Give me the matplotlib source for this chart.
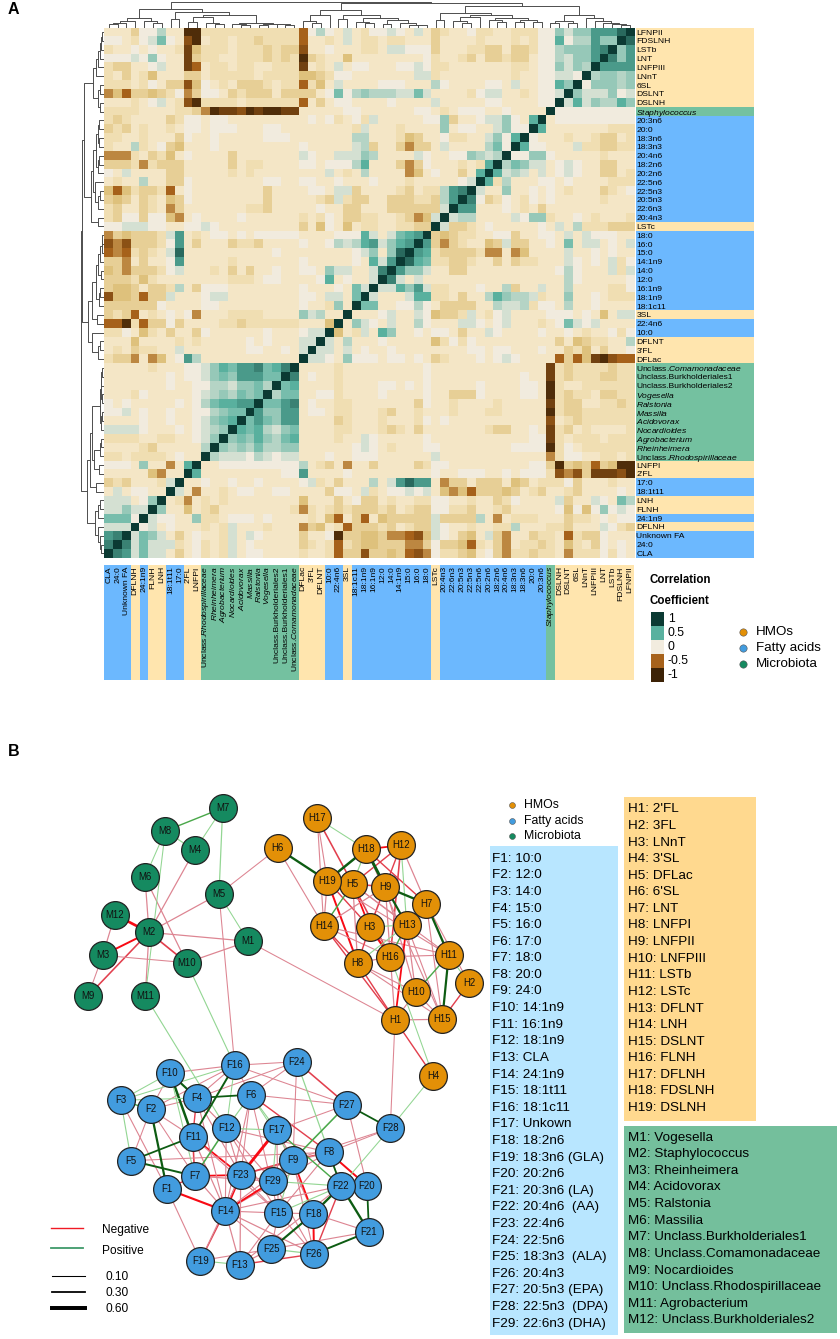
import matplotlib
matplotlib.use('Agg')
import matplotlib.pyplot as plt
import numpy as np
from matplotlib.colors import LinearSegmentedColormap
from matplotlib.patches import Rectangle

plt.rcParams['font.family'] = ['Liberation Sans', 'DejaVu Sans']
plt.rcParams['mathtext.fontset'] = 'custom'
plt.rcParams['mathtext.rm'] = 'Liberation Sans'
plt.rcParams['mathtext.it'] = 'Liberation Sans:italic'

##### heatmap labels, top to bottom
row_labels = ['LFNPII', 'FDSLNH', 'LSTb', 'LNT', 'LNFPIII', 'LNnT', '6SL', 'DSLNT', 'DSLNH',
              r'$\mathit{Staphylococcus}$',
              '20:3n6', '20:0', '18:3n6', '18:3n3', '20:4n6', '18:2n6', '20:2n6', '22:5n6',
              '22:5n3', '20:5n3', '22:6n3', '20:4n3', 'LSTc',
              '18:0', '16:0', '15:0', '14:1n9', '14:0', '12:0', '16:1n9', '18:1n9', '18:1c11',
              '3SL', '22:4n6', '10:0', 'DFLNT', "3'FL", 'DFLac',
              r'Unclass.$\mathit{Comamonadaceae}$', 'Unclass.Burkholderiales1',
              'Unclass.Burkholderiales2', r'$\mathit{Vogesella}$', r'$\mathit{Ralstonia}$',
              r'$\mathit{Massilia}$', r'$\mathit{Acidovorax}$', r'$\mathit{Nocardioides}$',
              r'$\mathit{Agrobacterium}$', r'$\mathit{Rheinheimera}$',
              r'Unclass.$\mathit{Rhodospirillaceae}$',
              'LNFPI', "2'FL", '17:0', '18:1t11', 'LNH', 'FLNH', '24:1n9', 'DFLNH',
              'Unknown FA', '24:0', 'CLA']
# H hmo, F fatty acid, M microbiota
row_groups = 'HHHHHHHHH' + 'M' + 'FFFFFFFFFFFF' + 'H' + 'FFFFFFFFF' + 'H' + 'FF' + 'HHH' \
             + 'MMMMMMMMMMM' + 'HH' + 'FF' + 'HH' + 'F' + 'H' + 'FFF'

##### correlation values, coded per cell. Only the part above the diagonal is typed, matrix is symmetric
levels = {'a': -0.09, 'b': -0.15, 'c': -0.23, 'd': -0.3, 'e': -0.42, 'f': -0.5, 'g': -0.62,
          'h': -0.75, 'i': -0.9, '0': 0.0, '1': 0.1, '2': 0.2, '3': 0.3, '4': 0.4, '5': 0.5,
          '6': 0.6, '7': 0.7, '8': 0.8, '9': 0.9}
corr_rows = [
    'aaac002aai ibbbbbbbbb bbf020a1ab 0010a1acba a0bbaabbb0 031336668',
    '00ab0140ag iabbabbcbb bbfaaba1ab babbaaacaa aabaaabab0 05022633',
    'baa0a0aabh dbbbabbbcb ccgaa0aaab ba11000caa abbccaccb0 0233367',
    '0001030aah cbbaabbbcb cbicbaadaa aaaaaa0baa bcaccbcca0 021336',
    'bccaa01aah fabbabbaab bbhaba1a00 aaa0010bba aaaaaabba0 03132',
    'bacabdaaac cabbbbbabb bbddcb00aa aaaaa11baa aaaaaabaa0 0110',
    'bbbab0accg d0abacccba bbfbda1aaa a000aaa20a aaa00a1aa0 053',
    'edfccdcb0e c00acbccca cccca04023 2221141aaa ab011aaba0 01',
    'aaaba01abg ibbbbabbbb bbfaca00aa aa0aaaa1aa aaa00aaaa0 0',
    'bbbbaaaabb ceihhgihii hhaaaaa00a aaaaa00aba 000aa0aaaa',
    'bcbaaaacb0 0a00aaaaaa aaa0a0ba0b 1aaaaa003c aa01130a5',
    'cbcabaaba0 0a000aaa00 aaaaaaaab1 aaabaaaa3a 00aa1300',
    'bbaabaaac0 aa0aaaaa00 0aaaaaaa22 aaabdcaa0b baa1305',
    'baa2ba0cda aa0aaaaaaa aa0aaaaa12 caacecca1a aaa240',
    'eeebacbda0 aaaacaaaaa aa10aa1113 2aaaa10aa0 03212',
    'cccbebccca aaaacabbaa aa00a00025 aaacec0aaa bab5',
    '0a1aaaacca aaaababaaa aaaaa1aba2 aaaaeda0aa ca5',
    'abaa2aacc0 aaaaaaaa00 aa00aa0aaa 0aaabaaaaa 01',
    'dfdbccbfa0 aaaaaaaaca aaa00a11ca aaabcabb26 7',
    'cdcacbadc0 aaaaaaaaca aaaabc1bcc aacccbbc26',
    'bcaacbaeca aaaaaabbca aaaa0aacca aacccccc1',
    'bc00c00dea 0aaaa0aaaa aabab0accb baabced1',
    '0011100aa0 010aaaaaaa aacad0adab baabbcc',
    'ecdcccb16a ba00a0a000 00aaaa0005 1a1456',
    'gegcccb06a caaacbbcaa aa0aa02125 61356',
    'fefbcba18a aaaaaaaaa0 aaaaaaaa01 3a38',
    'cceacaa06a aaaabaaaaa aa0aaaaa0a 516',
    'dcecccb01a aabacacaa0 aa00a311aa 17',
    'cccbdbaaaa aaaabbba00 aaaa05a0aa 1',
    'cddcaccb2a c000aaaaaa aa0aaa0a41',
    'gddcfcc1aa a011aaaaaa aa00a11a4',
    'cccccc0aaa a00aaaaaaa aa0aab3a',
    'cbcfaba0a0 eaaabbbbaa aa312aa',
    'ffibfcc0ca aaabbcbbbb bbaaad',
    'bb0adbacaa c0aaaaaa0a aa011',
    'aaadaaaaba baaaaa0a0a aa11',
    'abacbbaa1a aaaaaa00aa 0a1',
    'bcceaeda06 2aaaaaaaaa aa',
    'aaaaabaaa0 0135466745 7',
    'aaaaaaa0a0 0134366644',
    'aaaaaaa0aa 002213342',
    'aaab0aaaaa 01232434',
    '0a0aaaaa0a 0245566',
    '001a0aa0aa 002344',
    'aaaa0aa0aa 01345',
    '11110aaa0a 0123',
    'bbbbaabbaa 013',
    'aaaabcaaaa a2',
    'bbabbbba0a a',
    '000a3aaea5',
    'aaaaadeaa',
    'cbcaaab1',
    'a1a00aa',
    '111a03',
    '11311',
    '4440',
    '111',
    '67',
    '7',
    '',
]

##### dendrogram, (height, left, right) on columns, leaf = column number
c0_6 = (9.5, (6.5, (4.5, (3, 0, 1), 2), 3), (6, 4, (4, 5, 6)))
c9_13 = (10.4, (5, 9, 10), (4.5, 11, (3.5, 12, 13)))
c14_21 = (4.5, (3, 14, (2, 15, 16)), (3.5, (2.5, 17, 18), (3, 19, (2.2, 20, 21))))
c7_21 = (15.7, (8.3, 7, 8), (12.7, c9_13, c14_21))
c22_25 = (12.7, (6, 22, (4.5, 23, 24)), 25)
c28_36 = (9, (5, 28, (4, 29, 30)), (7, (3, 31, 32), (4, 33, (2.5, 34, (1.8, 35, 36)))))
c22_36 = (17.5, c22_25, (12.7, (8, 26, 27), c28_36))
c39_49 = (12.5, (10, (6, 39, (4.5, 40, 41)), 42), (9, (7, 43, (5, 44, 45)), (7, (5, 46, 47), (5, 48, 49))))
c37_49 = (14, (7, 37, 38), c39_49)
c50_59 = (12, (6, (4, 50, 51), (4.5, 52, 53)), (9, 54, (6, 55, (4, 56, (3, 57, (2, 58, 59))))))
dendro_tree = (25, (18.3, c0_6, c7_21), (24, c22_36, (21.7, c37_49, c50_59)))

##### network
hmo_names = ["2'FL", '3FL', 'LNnT', "3'SL", 'DFLac', "6'SL", 'LNT', 'LNFPI', 'LNFPII', 'LNFPIII',
             'LSTb', 'LSTc', 'DFLNT', 'LNH', 'DSLNT', 'FLNH', 'DFLNH', 'FDSLNH', 'DSLNH']
fatty_names = ['10:0', '12:0', '14:0', '15:0', '16:0', '17:0', '18:0', '20:0', '24:0', '14:1n9',
               '16:1n9', '18:1n9', 'CLA', '24:1n9', '18:1t11', '18:1c11', 'Unkown', '18:2n6',
               '18:3n6 (GLA)', '20:2n6', '20:3n6 (LA)', '20:4n6  (AA)', '22:4n6', '22:5n6',
               '18:3n3  (ALA)', '20:4n3', '20:5n3 (EPA)', '22:5n3  (DPA)', '22:6n3 (DHA)']
micro_names = ['Vogesella', 'Staphylococcus', 'Rheinheimera', 'Acidovorax', 'Ralstonia', 'Massilia',
               'Unclass.Burkholderiales1', 'Unclass.Comamonadaceae', 'Nocardioides',
               'Unclass.Rhodospirillaceae', 'Agrobacterium', 'Unclass.Burkholderiales2']

node_xy = {
    'M1': (248.3, 941.3), 'M2': (149, 932.3), 'M3': (102.7, 955.3), 'M4': (194.7, 850.3),
    'M5': (219, 894), 'M6': (145, 877.3), 'M7': (222.7, 808), 'M8': (165.3, 831),
    'M9': (88, 996), 'M10': (186.7, 962.7), 'M11': (145.3, 996), 'M12': (115, 914.7),
    'H1': (395, 1020), 'H2': (469, 983.3), 'H3': (369.7, 927.3), 'H4': (433, 1075.7),
    'H5': (352.7, 884), 'H6': (277.7, 848.3), 'H7': (426.3, 903.7), 'H8': (357.7, 963),
    'H9': (385.3, 886.7), 'H10': (415.7, 992.3), 'H11': (448.7, 955), 'H12': (401, 845.3),
    'H13': (406.7, 924.7), 'H14': (323.7, 926), 'H15': (442.3, 1019.3), 'H16': (390.3, 956.7),
    'H17': (317.3, 818.3), 'H18': (366, 849.3), 'H19': (327.3, 880.7),
    'F1': (167, 1189), 'F2': (150.7, 1109.3), 'F3': (120.7, 1100.3), 'F4': (196.7, 1098),
    'F5': (131.3, 1160.7), 'F6': (250.7, 1094.7), 'F7': (194.7, 1176), 'F8': (328.7, 1152.3),
    'F9': (293, 1160), 'F10': (170, 1073), 'F11': (192.7, 1136.7), 'F12': (226.3, 1128.3),
    'F13': (240, 1264.7), 'F14': (225.3, 1211), 'F15': (278.3, 1213), 'F16': (234.7, 1065.3),
    'F17': (276.7, 1130), 'F18': (313.3, 1213.7), 'F19': (200.3, 1260.7), 'F20': (367, 1185.7),
    'F21': (369, 1231.7), 'F22': (341, 1186), 'F23': (240.7, 1175), 'F24': (296.7, 1061.7),
    'F25': (271.3, 1249), 'F26': (314, 1254), 'F27': (347, 1104.7), 'F28': (390.3, 1128.3),
    'F29': (272.7, 1181.3),
}

neg_edges = [
    ('M4', 'M2', .15), ('M6', 'M2', .15), ('M6', 'M10', .15), ('M5', 'M2', .15), ('M5', 'H6', .1),
    ('M5', 'F16', .1), ('M12', 'M2', .55), ('M12', 'M3', .15), ('M2', 'M3', .35), ('M2', 'M9', .25),
    ('M2', 'M10', .28), ('M2', 'M1', .15), ('M2', 'M11', .15), ('M3', 'M10', .1), ('M3', 'M9', .1),
    ('M10', 'M1', .15), ('M1', 'H1', .1),
    ('H6', 'H14', .12), ('H17', 'H14', .12), ('H17', 'H19', .12), ('H17', 'H5', .25), ('H18', 'H12', .3),
    ('H18', 'H7', .2), ('H12', 'H9', .2), ('H12', 'H5', .2), ('H12', 'H7', .15), ('H12', 'H16', .25),
    ('H19', 'H5', .2), ('H19', 'H8', .35), ('H19', 'H3', .2), ('H19', 'H14', .15), ('H5', 'H9', .25),
    ('H5', 'H3', .3), ('H5', 'H8', .15), ('H5', 'H16', .25), ('H5', 'H13', .12), ('H9', 'H3', .25),
    ('H9', 'H14', .15), ('H9', 'H16', .15), ('H9', 'H10', .15), ('H7', 'H2', .12), ('H7', 'H15', .12),
    ('H14', 'H8', .2), ('H14', 'H16', .12), ('H14', 'H11', .12), ('H14', 'H1', .2), ('H3', 'H16', .42),
    ('H3', 'H8', .2), ('H13', 'H1', .3), ('H13', 'H10', .15), ('H13', 'H15', .12), ('H16', 'H11', .12),
    ('H16', 'H8', .15), ('H16', 'H1', .15), ('H8', 'H10', .12), ('H8', 'H1', .2), ('H8', 'H15', .12),
    ('H2', 'H15', .2), ('H10', 'H1', .15), ('H10', 'H15', .12), ('H1', 'H15', .15), ('H1', 'H4', .2),
    ('H1', 'F28', .1), ('H19', 'H11', .12), ('H5', 'H11', .12), ('H18', 'H15', .12),
    ('F16', 'F24', .1), ('F16', 'F10', .12), ('F16', 'F4', .12), ('F16', 'F6', .1), ('F16', 'F2', .1),
    ('F16', 'F27', .1), ('F24', 'F4', .1), ('F24', 'F6', .1), ('F24', 'F27', .25), ('F24', 'F9', .1),
    ('F10', 'F2', .1), ('F3', 'F1', .12), ('F2', 'F4', .1), ('F2', 'F5', .1), ('F2', 'F11', .12),
    ('F2', 'F7', .1), ('F4', 'F11', .2), ('F4', 'F12', .15), ('F4', 'F23', .12), ('F6', 'F27', .1),
    ('F6', 'F8', .2), ('F6', 'F23', .1), ('F6', 'F15', .1), ('F27', 'F17', .1), ('F27', 'F20', .12),
    ('F28', 'F8', .1), ('F28', 'F9', .1), ('F12', 'F8', .12), ('F12', 'F23', .12), ('F12', 'F29', .12),
    ('F12', 'F15', .12), ('F11', 'F7', .25), ('F11', 'F23', .3), ('F11', 'F14', .15), ('F11', 'F15', .12),
    ('F5', 'F8', .1), ('F17', 'F23', .6), ('F17', 'F9', .12), ('F17', 'F18', .12), ('F8', 'F9', .2),
    ('F8', 'F20', .35), ('F8', 'F23', .12), ('F8', 'F14', .12), ('F9', 'F23', .25), ('F9', 'F18', .3),
    ('F9', 'F26', .12), ('F7', 'F23', .3), ('F7', 'F29', .15), ('F7', 'F1', .2), ('F7', 'F14', .15),
    ('F23', 'F14', .45), ('F23', 'F29', .12), ('F23', 'F15', .12), ('F29', 'F14', .35), ('F29', 'F26', .12),
    ('F1', 'F14', .4), ('F1', 'F19', .12), ('F22', 'F26', .2), ('F14', 'F15', .12), ('F14', 'F19', .2),
    ('F14', 'F13', .15), ('F14', 'F25', .12), ('F14', 'F26', .15), ('F15', 'F18', .12), ('F15', 'F25', .12),
    ('F15', 'F13', .12), ('F15', 'F26', .12), ('F18', 'F26', .35), ('F18', 'F21', .12), ('F25', 'F13', .15),
    ('F25', 'F19', .12), ('F26', 'F13', .2), ('F19', 'F23', .12), ('F13', 'F23', .15), ('F21', 'F25', .12),
    ('F9', 'F14', .12), ('F8', 'F15', .12), ('F12', 'F14', .12), ('F6', 'F14', .12), ('F4', 'F14', .12),
    ('F17', 'F15', .12), ('F22', 'F14', .12), ('F22', 'F13', .12),
]
pos_edges = [
    ('M7', 'M8', .2), ('M7', 'M4', .1), ('M7', 'M5', .15), ('M8', 'M4', .15), ('M8', 'M6', .1),
    ('M8', 'M11', .1), ('M5', 'M1', .1), ('M10', 'F16', .12), ('M11', 'F12', .12),
    ('H6', 'H19', .45), ('H17', 'H18', .1), ('H18', 'H19', .5), ('H18', 'H9', .62), ('H18', 'H5', .15),
    ('H12', 'H13', .12), ('H5', 'H14', .2), ('H9', 'H7', .45), ('H9', 'H13', .4), ('H7', 'H11', .45),
    ('H7', 'H13', .12), ('H3', 'H13', .12), ('H13', 'H16', .2), ('H13', 'H8', .12), ('H11', 'H10', .2),
    ('H11', 'H2', .12), ('H11', 'H15', .42), ('H16', 'H4', .1), ('H4', 'F28', .1),
    ('F16', 'F3', .1), ('F16', 'F12', .1), ('F16', 'F11', .35), ('F24', 'F22', .15), ('F10', 'F3', .1),
    ('F10', 'F4', .4), ('F10', 'F11', .5), ('F10', 'F7', .1), ('F3', 'F2', .2), ('F3', 'F5', .12),
    ('F3', 'F4', .1), ('F2', 'F1', .42), ('F4', 'F6', .3), ('F6', 'F12', .15), ('F6', 'F17', .12),
    ('F6', 'F9', .1), ('F27', 'F28', .3), ('F27', 'F9', .25), ('F28', 'F22', .1), ('F12', 'F17', .12),
    ('F12', 'F7', .25), ('F11', 'F5', .3), ('F5', 'F7', .35), ('F17', 'F22', .2), ('F17', 'F29', .12),
    ('F8', 'F22', .3), ('F9', 'F15', .1), ('F29', 'F22', .12), ('F22', 'F20', .2), ('F22', 'F21', .45),
    ('F22', 'F18', .45), ('F22', 'F15', .12), ('F20', 'F21', .3), ('F18', 'F25', .4), ('F21', 'F26', .35),
    ('F25', 'F26', .15), ('F19', 'F13', .12),
]

##### legends
heat_legend_values = [1, 0.5, 0, -0.5, -1]
heat_legend_labels = ['1', '0.5', '0', '-0.5', '-1']
group_names = ['HMOs', 'Fatty acids', 'Microbiota']
width_legend = [0.10, 0.30, 0.60]

band_col = {'H': '#ffe5ae', 'F': '#6cb8fe', 'M': '#74c1a0'}
node_col = {'H': '#e39007', 'F': '#429cdf', 'M': '#158a60'}

# colour scale
heat_cmap = LinearSegmentedColormap.from_list('corr', [
    (0.0, '#3c2206'), (0.25, '#a6611a'), (0.35, '#dfc27d'), (0.44, '#f5e5bf'), (0.5, '#f3ecdf'),
    (0.75, '#5ab2a0'), (1.0, '#0b3a33')])

W, H = 840, 1339
fig = plt.figure(figsize=(W / 100, H / 100), dpi=100)
ax = fig.add_axes([0, 0, 1, 1])
ax.set_xlim(0, W)
ax.set_ylim(H, 0)
ax.axis('off')

##### Panel A
x0, y0, cw = 104.3, 27.7, 8.835
n = len(row_labels)
corr = np.ones((n, n))
for i, r in enumerate(corr_rows):
    s = r.replace(' ', '')
    if len(s) != n - 1 - i:
        print('row length', i, len(s))
    for j, ch in enumerate(s):
        corr[i, j] = levels[ch]
        corr[n - 1 - j, n - 1 - i] = levels[ch]

hax = fig.add_axes([x0 / W, 1 - (y0 + n * cw) / H, n * cw / W, n * cw / H])
hax.imshow(corr, cmap=heat_cmap, vmin=-1, vmax=1, aspect='auto', interpolation='nearest')
hax.set_yticks(range(n))
hax.set_yticklabels(row_labels, fontsize=6.1)
hax.yaxis.tick_right()
hax.set_xticks(range(n))
hax.set_xticklabels(row_labels[::-1], fontsize=6.1, rotation=90, va='top', ha='center')
hax.tick_params(axis='y', length=0, pad=1.5)
hax.tick_params(axis='x', length=0, pad=6)
for s in hax.spines.values():
    s.set_visible(False)

# colour strips under the labels
for i, g in enumerate(row_groups):
    ax.add_patch(Rectangle((x0 + n * cw + 1.5, y0 + i * cw), 118, cw, color=band_col[g], lw=0))
    ax.add_patch(Rectangle((x0 + (n - 1 - i) * cw, 564.5), cw, 115.5, color=band_col[g], lw=0))


def draw_tree(node, toxy):
    if not isinstance(node, tuple):
        return node, 0
    h, a, b = node
    pa, ha = draw_tree(a, toxy)
    pb, hb = draw_tree(b, toxy)
    pts = [toxy(pa, ha), toxy(pa, h), toxy(pb, h), toxy(pb, hb)]
    ax.plot([p[0] for p in pts], [p[1] for p in pts], color='#4d4d4d', lw=0.7)
    return (pa + pb) / 2, h


draw_tree(dendro_tree, lambda p, h: (x0 + (p + .5) * cw, y0 - 0.5 - h))
draw_tree(dendro_tree, lambda p, h: (x0 - 0.5 - h * 0.9, y0 + (n - 1 - p + .5) * cw))

ax.text(650, 580, 'Correlation', fontsize=8.3, fontweight='bold', va='center')
ax.text(650, 600.5, 'Coefficient', fontsize=8.3, fontweight='bold', va='center')
for k, (v, t) in enumerate(zip(heat_legend_values, heat_legend_labels)):
    ax.add_patch(Rectangle((651, 612 + k * 14), 13, 14, color=heat_cmap((v + 1) / 2), lw=0))
    ax.text(668, 619 + k * 14, t, fontsize=8.8, va='center')
for k, t in enumerate(group_names):
    ax.scatter(743, 632 + k * 16, s=28, color=node_col['HFM'[k]], edgecolor='#555555', lw=0.4)
    ax.text(756, 632 + k * 16, t, fontsize=9.6, va='center')

ax.text(8, 9, 'A', fontsize=11.5, fontweight='bold', va='center')
ax.text(8, 751, 'B', fontsize=11.5, fontweight='bold', va='center')

##### Panel B
for e_list, sign in ((neg_edges, -1), (pos_edges, 1)):
    for a, b, w in e_list:
        if sign < 0:
            c = '#dd8592' if w < .18 else ('#e2404e' if w < .3 else '#f80a14')
        else:
            c = '#93d693' if w < .18 else ('#4aa84a' if w < .28 else '#0d5c12')
        ax.plot([node_xy[a][0], node_xy[b][0]], [node_xy[a][1], node_xy[b][1]],
                color=c, lw=0.5 + 2.6 * w, zorder=2, solid_capstyle='butt')

for name, (x, y) in node_xy.items():
    ax.scatter(x, y, s=400, color=node_col[name[0]], edgecolor='#222222', lw=0.9, zorder=3)
    ax.text(x, y, name, fontsize=6.9, ha='center', va='center', zorder=4, color='#111111')

# network legend
ax.plot([51, 83], [1228, 1228], color='#f01a24', lw=1)
ax.plot([51, 83], [1248, 1248], color='#3f9a6a', lw=1.3)
ax.text(102, 1229.5, 'Negative', fontsize=8.6, va='center')
ax.text(102, 1250.5, 'Positive', fontsize=8.6, va='center')
for k, w in enumerate(width_legend):
    yy = [1276, 1292, 1308][k]
    ax.plot([52, 85], [yy, yy], color='k', lw=0.5 + 2.6 * w + (0.8 if k == 2 else 0))
    ax.text(106, yy + 1, '%.2f' % w, fontsize=8.6, va='center')

ax.add_patch(Rectangle((490, 846), 128, 489, color='#b8e6ff', lw=0))
ax.add_patch(Rectangle((624, 796.7), 131.7, 324, color='#ffd98f', lw=0))
ax.add_patch(Rectangle((624, 1125.7), 213, 207, color='#74bf9c', lw=0))

for k, t in enumerate(group_names):
    yy = [805, 821, 836][k]
    ax.scatter(512, yy, s=18, color=node_col['HFM'[k]], edgecolor='#555555', lw=0.4)
    ax.text(524, yy, t, fontsize=8.8, va='center')
for k, t in enumerate(fatty_names):
    ax.text(492, 858.7 + k * 16.6, 'F%d: %s' % (k + 1, t), fontsize=9.7, va='center')
for k, t in enumerate(hmo_names):
    ax.text(628.3, 809.3 + k * 16.6, 'H%d: %s' % (k + 1, t), fontsize=9.7, va='center')
for k, t in enumerate(micro_names):
    ax.text(628.3, 1137.7 + k * 16.6, 'M%d: %s' % (k + 1, t), fontsize=9.7, va='center')

fig.savefig('out.png', dpi=100)
